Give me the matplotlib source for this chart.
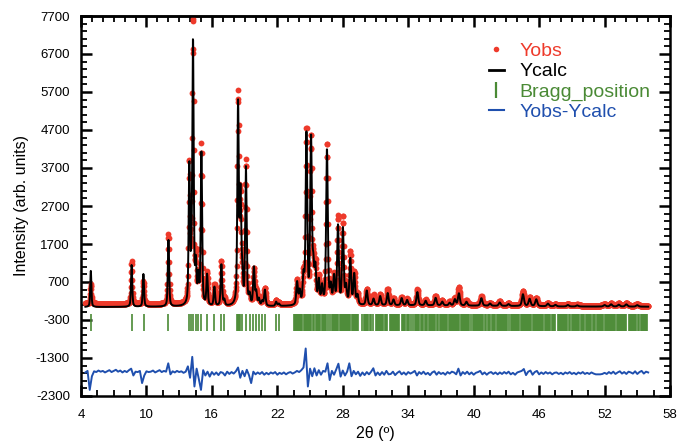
import numpy as np
import matplotlib
matplotlib.use('Agg')
import matplotlib.pyplot as plt
from matplotlib.lines import Line2D
from matplotlib.ticker import FixedLocator, NullFormatter

plt.rcParams['font.family'] = ['Liberation Sans', 'DejaVu Sans']
plt.rcParams['axes.unicode_minus'] = False

# scan range / step in 2theta (deg)
scan_start, scan_end, scan_step = 4.4, 56.0, 0.02

# reflections: position, calc height, obs height (above background)
peak_pos = [4.90, 8.64, 9.72, 12.02, 13.93, 14.12, 14.27, 14.53, 14.76, 15.04,
            15.56, 16.23, 16.87, 17.14, 18.40, 18.62, 18.78, 19.12, 19.46, 19.85,
            20.06, 20.31, 20.61, 20.86, 21.89, 22.14, 23.81, 24.05, 24.40, 24.67,
            25.09, 25.30, 25.49, 25.80, 26.10, 26.55, 26.90, 27.20, 27.56, 28.01,
            28.30, 28.69, 29.05, 29.35, 30.20, 30.82, 31.43, 32.12, 32.65, 33.40,
            33.90, 34.84, 35.60, 36.51, 37.12, 37.80, 38.28, 38.65, 39.34, 40.71,
            41.50, 42.39, 43.20, 44.52, 45.13, 45.74, 46.81, 47.50, 48.64, 49.50,
            52.00, 52.60, 53.30, 54.00, 55.00]
peak_calc = [950, 1100, 860, 1750, 3650, 700, 6900, 1000, 700, 4000,
             800, 500, 1100, 150, 5250, 2800, 700, 3600, 250, 1000,
             350, 180, 120, 420, 110, 60, 600, 350, 700, 4500,
             4350, 900, 900, 600, 450, 4100, 450, 700, 2050, 2000,
             450, 1200, 800, 250, 380, 170, 240, 320, 150, 190,
             140, 350, 120, 200, 100, 70, 160, 320, 100, 200,
             60, 90, 50, 310, 190, 180, 70, 40, 40, 30,
             40, 60, 50, 60, 40]
peak_obs = [520, 1130, 600, 1850, 3600, 800, 7350, 1100, 650, 4150,
            800, 500, 1120, 150, 5450, 2700, 700, 3750, 250, 900,
            350, 180, 120, 430, 110, 60, 620, 400, 750, 4550,
            4300, 900, 950, 650, 420, 4200, 400, 700, 2250, 2250,
            450, 1350, 820, 250, 400, 250, 250, 400, 160, 200,
            150, 400, 130, 230, 110, 80, 170, 470, 110, 220,
            60, 100, 50, 380, 220, 200, 70, 40, 50, 30,
            50, 60, 60, 70, 50]

# background anchor points
bkg_x = [4.4, 10, 20, 24, 30, 36, 42, 48, 56]
bkg_calc = [40, 45, 50, 60, 80, 80, 70, 55, 50]
bkg_obs = [130, 120, 95, 100, 110, 105, 95, 80, 75]

bragg_pos = [
    4.93, 8.64, 9.74, 12.02, 13.93, 14.12, 14.27, 14.53, 14.76, 15.04,
    15.56, 16.23, 16.87, 17.14, 18.33, 18.42, 18.52, 18.62, 18.72, 19.15,
    19.46, 19.76, 20.06, 20.31, 20.61, 20.86, 21.89, 22.14,
    23.5, 23.6, 23.7, 23.8, 23.9, 24.0, 24.1, 24.2, 24.3, 24.4, 24.5, 24.6, 24.7, 24.8, 24.9, 25.0, 25.1,
    25.3, 25.4, 25.5, 25.6, 25.7, 25.8, 25.9, 26.1, 26.2, 26.3, 26.4, 26.5, 26.6, 26.8,
    27.0, 27.1, 27.2, 27.3, 27.4, 27.5, 27.6, 27.7, 27.8, 27.9, 28.0, 28.1, 28.2, 28.3, 28.4,
    28.5, 28.6, 28.7, 28.8, 28.9, 29.0, 29.1, 29.2, 29.3, 29.4,
    29.8, 29.9, 30.0, 30.1, 30.2, 30.3, 30.5, 30.6, 30.8, 31.0, 31.1, 31.2, 31.3, 31.4, 31.5, 31.6, 31.7,
    31.9, 32.0, 32.1, 32.3, 32.4, 32.5, 32.6, 32.7, 32.8, 32.9, 33.0, 33.1, 33.2, 33.4, 33.5, 33.6, 33.7,
    33.9, 34.0, 34.1, 34.3, 34.4, 34.6, 34.7, 34.8, 34.9, 35.0, 35.2, 35.3, 35.4, 35.5, 35.6, 35.7,
    35.9, 36.0, 36.1, 36.2, 36.3, 36.4, 36.5, 36.6, 36.7, 36.9, 37.0, 37.1, 37.2, 37.3, 37.4, 37.5,
    37.6, 37.7, 37.8, 37.9, 38.0, 38.1, 38.2, 38.3, 38.4, 38.5, 38.6, 38.7, 38.8, 38.9, 39.0, 39.1,
    39.2, 39.3, 39.4, 39.5, 39.6, 39.8, 39.9, 40.0, 40.1, 40.2, 40.3, 40.4, 40.5, 40.6, 40.7, 40.8,
    40.9, 41.0, 41.1, 41.3, 41.4, 41.5, 41.7, 41.8, 41.9, 42.0, 42.1, 42.2, 42.3, 42.4, 42.5, 42.6,
    42.7, 42.8, 42.9, 43.0, 43.1, 43.2, 43.4, 43.5, 43.6, 43.7, 43.8, 43.9, 44.0, 44.1, 44.2, 44.3,
    44.4, 44.5, 44.6, 44.7, 44.8, 44.9, 45.0, 45.1, 45.2, 45.3, 45.4, 45.5, 45.6, 45.7, 45.8, 45.9,
    46.0, 46.1, 46.2, 46.3, 46.4, 46.5, 46.6, 46.7, 46.8, 46.9, 47.0, 47.2, 47.3, 47.4, 47.5, 47.7,
    47.8, 47.9, 48.0, 48.1, 48.2, 48.3, 48.4, 48.5, 48.6, 48.7, 48.8, 49.0, 49.1, 49.2, 49.3, 49.4,
    49.5, 49.6, 49.7, 49.8, 49.9, 50.0, 50.1, 50.3, 50.4, 50.5, 50.6, 50.7, 50.8, 50.9, 51.0, 51.1,
    51.3, 51.4, 51.5, 51.6, 51.7, 51.8, 51.9, 52.0, 52.1, 52.2, 52.3, 52.4, 52.5, 52.6, 52.7, 52.8,
    52.9, 53.0, 53.1, 53.2, 53.3, 53.4, 53.5, 53.6, 53.7, 53.8, 53.9, 54.0, 54.2, 54.3, 54.4, 54.5,
    54.6, 54.7, 54.8, 54.9, 55.1, 55.2, 55.3, 55.4, 55.5, 55.6, 55.7, 55.8, 55.9,
]

# Yobs - Ycalc read every 0.2 deg from 4.4 to 56.0
diff_start, diff_step = 4.4, 0.2
diff_vals = [
    20, 60, -440, -80, 50, 30, 70, 40, 60, 20,
    50, 80, 30, 60, 90, 40, 70, 20, 60, 30,
    80, 120, -60, 40, 30, 60, -260, -60, 50, 30,
    40, 70, 20, 50, 80, 30, 60, 40, 260, -30,
    50, 20, 60, 30, 50, 10, 40, 180, -120, 430,
    -350, 120, -150, -440, 80, -60, 40, -90, 30, -40,
    20, -50, 30, 10, -60, 40, -20, 30, -10, 50,
    150, -120, 60, -80, 90, -50, -260, 40, -30, 20,
    -20, 30, -40, 10, -30, 20, -10, 30, -40, 10,
    -20, 20, -30, 10, 30, -10, 20, 60, 30, 80,
    150, 650, -350, 120, -80, 130, -60, 80, -40, 60,
    40, 260, -180, 60, -40, 100, 250, -90, 70, -60,
    40, 260, -80, 60, -30, 40, -70, 20, -50, 30,
    -30, 40, 130, -60, 20, -50, 30, -40, 60, -30,
    -20, 40, -50, 10, 50, -30, 20, -40, 30, -10,
    20, 60, -60, 30, -20, 40, -30, 10, -50, 20,
    50, -40, 30, -20, 10, -40, 30, -10, 40, 20,
    -30, 120, -60, 30, -20, 40, -30, 20, -40, 10,
    30, 60, -30, 20, -40, 10, 30, -20, 20, -30,
    20, -20, 30, -10, 40, -30, 10, -40, 20, 40,
    60, 110, -50, 40, 70, -40, 30, 60, -30, 20,
    -20, 30, -10, 20, -30, 10, 20, -20, 10, -30,
    20, -10, 30, -20, 10, -30, 20, -10, 30, -20,
    10, -20, 20, -10, -30, -30, -30, -20, 10, -20,
    30, -10, 40, -20, 20, 50, -10, 30, -20, 40,
    20, -10, 50, -20, 30, 60, -10, 40, 20,
]

diff_offset = -1700
bragg_lo, bragg_hi = -590, -140

red = '#ee3a2b'
green = '#4a8a35'
blue = '#1f4fae'

tth = np.arange(scan_start, scan_end + scan_step / 2, scan_step)


def pseudo_voigt(x, x0, fwhm, eta=0.5):
    t = ((x - x0) / (fwhm / 2)) ** 2
    return eta / (1 + t) + (1 - eta) * np.exp(-np.log(2) * t)


def profile(heights, bkg):
    y = np.interp(tth, bkg_x, bkg)
    for p, h in zip(peak_pos, heights):
        y = y + h * pseudo_voigt(tth, p, 0.11 + 0.0025 * p)
    return y


y_calc = profile(peak_calc, bkg_calc)
y_obs = profile(peak_obs, bkg_obs)
diff_x = diff_start + diff_step * np.arange(len(diff_vals))

fig, ax = plt.subplots(figsize=(6.77, 4.43), dpi=100)
fig.subplots_adjust(left=81 / 677, right=670 / 677, bottom=1 - 396 / 443, top=1 - 16 / 443)

ax.plot(tth, y_obs, 'o', ms=4.2, mew=0, color=red, zorder=2)
ax.plot(tth, y_calc, color='k', lw=1.4, zorder=3)
ax.vlines(bragg_pos, bragg_lo, bragg_hi, color=green, lw=1.2, zorder=2)
ax.plot(diff_x, np.array(diff_vals) + diff_offset, color=blue, lw=1.4, zorder=2)

ax.set_xlim(4, 58)
ax.set_ylim(-2300, 7700)
ax.xaxis.set_major_locator(FixedLocator(np.arange(4, 58.1, 6)))
ax.xaxis.set_minor_locator(FixedLocator(np.arange(4, 58.1, 1.5)))
ax.yaxis.set_major_locator(FixedLocator(np.arange(-2300, 7701, 1000)))
ax.yaxis.set_minor_locator(FixedLocator(np.arange(-2300, 7701, 200)))
ax.tick_params(which='both', direction='in', right=True, labelsize=9.5)
ax.tick_params(which='major', length=8, width=1.8)
ax.tick_params(which='minor', length=4, width=1.3)
ax.tick_params(axis='x', pad=9)
ax.tick_params(axis='y', pad=8)

top = ax.secondary_xaxis('top')
top.xaxis.set_major_locator(FixedLocator(np.arange(4, 58.1, 6)))
top.xaxis.set_minor_locator(FixedLocator(np.arange(4, 58.1, 1)))
top.xaxis.set_major_formatter(NullFormatter())
top.tick_params(which='both', direction='in')
top.tick_params(which='major', length=8, width=1.8)
top.tick_params(which='minor', length=4, width=1.3)
top.spines['top'].set_linewidth(1.8)

for s in ax.spines.values():
    s.set_linewidth(1.8)

ax.set_xlabel('2θ (º)', fontsize=11.5, labelpad=4)
ax.set_ylabel('Intensity (arb. units)', fontsize=11.5, labelpad=5)

handles = [
    Line2D([], [], ls='none', marker='o', ms=4, mew=0, color=red),
    Line2D([], [], color='k', lw=2),
    Line2D([], [], ls='none', marker='|', ms=11, mew=1.6, color=green),
    Line2D([], [], color=blue, lw=1.5),
]
labels = ['Yobs', 'Ycalc', 'Bragg_position', 'Yobs-Ycalc']
leg = ax.legend(handles, labels, loc='upper left', bbox_to_anchor=(0.693, 0.93),
                frameon=False, fontsize=14, handlelength=0.75, handletextpad=0.8,
                labelspacing=0.13, borderpad=0, borderaxespad=0)
for txt, c in zip(leg.get_texts(), [red, 'k', green, blue]):
    txt.set_color(c)

fig.savefig('out.png', dpi=100)
